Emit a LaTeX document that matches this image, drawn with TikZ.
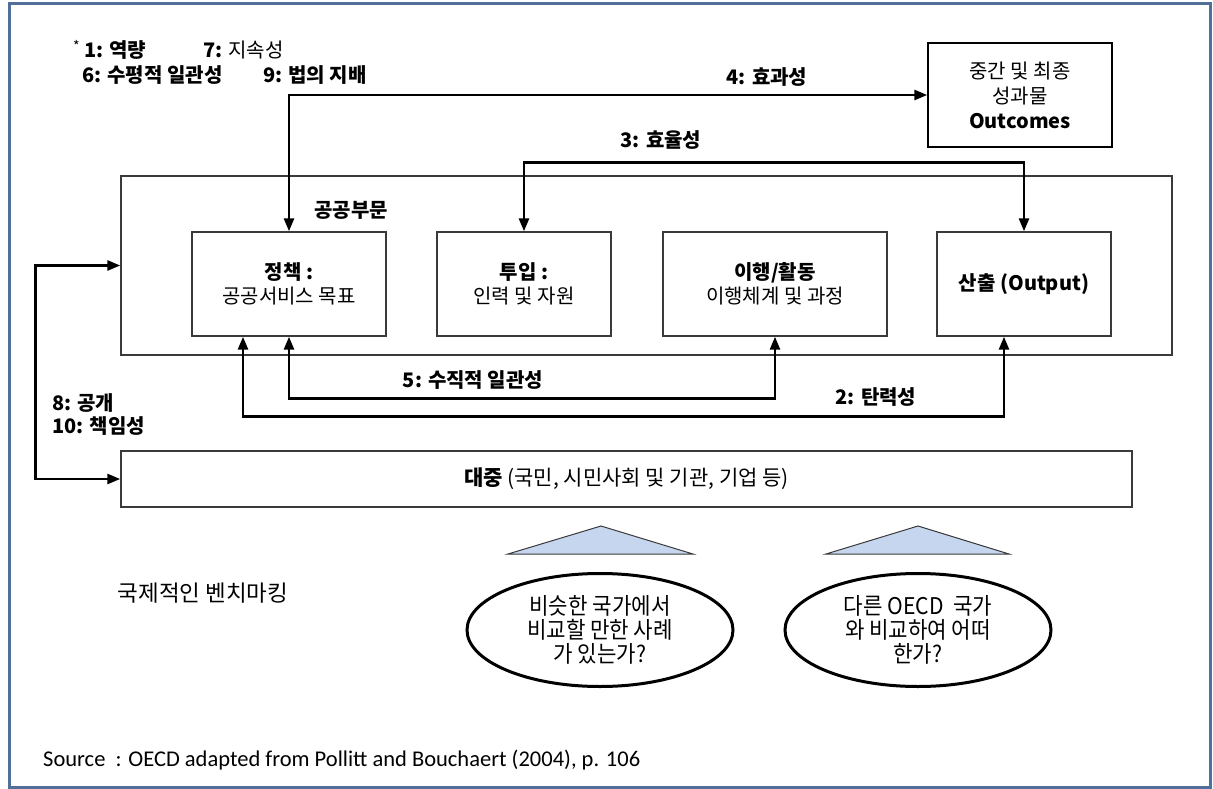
\documentclass[tikz,border=0pt]{standalone}
\usepackage{fontspec}
\setmainfont{Noto Sans CJK KR}
\newfontfamily\condfont[FakeStretch=0.92]{Noto Sans CJK KR}
\newfontfamily\srcfont{Carlito}
\usetikzlibrary{arrows.meta,calc,shapes.geometric}
\definecolor{framec}{HTML}{50709A}
\definecolor{boxc}{HTML}{3A3A3A}
\definecolor{trifill}{HTML}{C6D6EE}
\newcommand\fsz[2]{\fontsize{#1pt}{#2pt}\selectfont}
\begin{document}
\begin{tikzpicture}[x=1pt, y=-1pt,
  >={Triangle[length=13pt,width=10pt]},
  box/.style={draw=boxc, line width=1.4pt, align=center, inner sep=2pt, minimum height=104pt, font=\fsz{20}{24}},
  arr/.style={line width=2.6pt, <->},
  lab/.style={font=\fsz{20}{24}\bfseries, inner sep=0pt},
  ell/.style={ellipse, draw, line width=3pt, minimum width=266pt, minimum height=113pt, align=center, font=\condfont\fsz{23}{24}, inner sep=0pt},
  tri/.style={fill=trifill, draw=boxc, line width=1pt},
  leg/.style={anchor=west, inner sep=0pt, font=\fsz{20}{24}}]
\useasboundingbox (0,0) rectangle (1213,789);
\fill[white] (0,0) rectangle (1213,789);
\draw[framec, line width=3pt] (9,4) rectangle (1210,787);

% legend
\node[leg] (lg1) at (73,50) {\raisebox{0.3em}{\fsz{14}{24}*} \textbf{1: 역량}};
\node[leg] (lg2) at (203,50) {\textbf{7:} 지속성};
\node[leg, font=\fsz{20}{24}\bfseries] (lg3) at (82,75) {6: 수평적 일관성};
\node[leg, font=\fsz{20}{24}\bfseries] (lg4) at (263,75) {9: 법의 지배};

% containers
\node[draw=boxc, line width=1.4pt, minimum width=1051pt, minimum height=179pt, inner sep=0pt] (ps) at (646.5,265.5) {};
\node[draw=boxc, line width=1.4pt, minimum width=1011pt, minimum height=56pt, inner sep=0pt, font=\fsz{21}{24}] (pub) at (626.5,479) {\textbf{대중} (국민, 시민사회 및 기관, 기업 등)};

% boxes
\node[box, minimum width=194pt] (pol) at (289,284) {\textbf{정책 :}\\공공서비스 목표};
\node[box, minimum width=174pt] (inp) at (524,284) {\textbf{투입 :}\\인력 및 자원};
\node[box, minimum width=224pt] (imp) at (775,284) {\textbf{이행/활동}\\이행체계 및 과정};
\node[box, minimum width=174pt] (outp) at (1024,284) {\textbf{산출 (Output)}};
\node[box, draw=black, minimum width=184pt, font=\fsz{20}{25}] (oc) at (1020,95) {중간 및 최종\\성과물\\\textbf{Outcomes}};

% arrows
\draw[arr] (pol.north) |- (oc.west);
\draw[arr] (inp.north) -- ++(0,-69) -| (outp.north);
\draw[arr] (pol.south) -- ++(0,62) -| (imp.south);
\draw[arr] ([xshift=-46pt]pol.south) -- ++(0,80) -| ([xshift=-20pt]outp.south);
\draw[arr] (ps.west) -- ++(-85,0) |- (pub.west);

% labels
\node[lab] (l4) at (767,77) {4: 효과성};
\node[lab] (l3) at (661,140) {3: 효율성};
\node[lab] (l0) at (351,210) {공공부문};
\node[lab] (l5) at (473,380) {5: 수직적 일관성};
\node[lab] (l2) at (876,397) {2: 탄력성};
\node[lab, anchor=west] (l8) at (52,403) {8: 공개};
\node[lab, anchor=west] (l10) at (52,426) {10: 책임성};

% benchmarking
\draw[tri] (601,526) -- (693,554) -- (508,554) -- cycle;
\draw[tri] (918,526) -- (1009,554) -- (826,554) -- cycle;
\node[ell] (e1) at (600,630) {비슷한 국가에서\\비교할 만한 사례\\가 있는가?};
\node[ell] (e2) at (918,630) {다른 OECD~~국가\\와 비교하여 어떠\\한가?};
\node[font=\fsz{22.5}{24}] (bm) at (203,593) {국제적인 벤치마킹};
\node[anchor=west, inner sep=0pt, font=\srcfont\fsz{22.5}{24}] (src) at (43,760) {Source\ \ : OECD adapted from Pollitt and Bouchaert (2004), p. 106};
\end{tikzpicture}
\end{document}
